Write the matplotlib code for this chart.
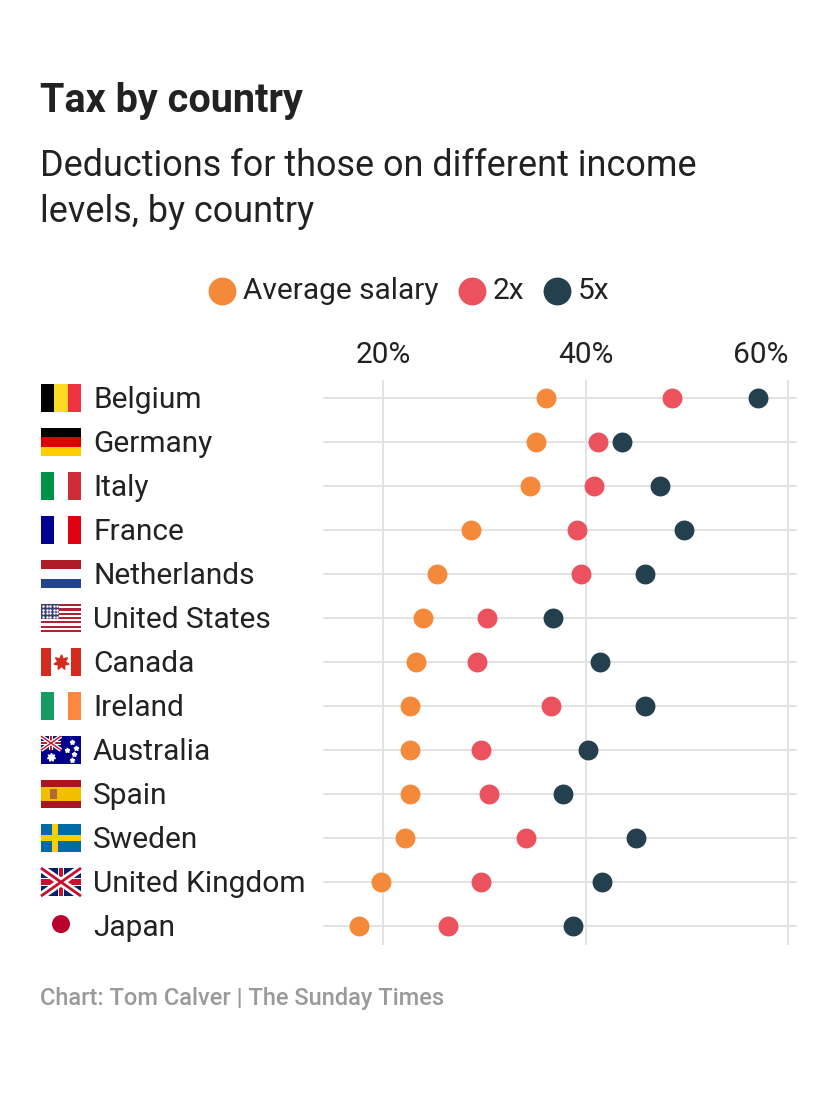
import matplotlib.pyplot as plt
from matplotlib.patches import Rectangle, Circle

plt.rcParams["font.family"] = ["Roboto", "DejaVu Sans"]

countries = ["Belgium", "Germany", "Italy", "France", "Netherlands", "United States",
             "Canada", "Ireland", "Australia", "Spain", "Sweden", "United Kingdom", "Japan"]
average = [36.1, 35.1, 34.5, 28.7, 25.3, 23.9, 23.2, 22.6, 22.6, 22.6, 22.2, 19.8, 17.6]
double = [48.5, 41.2, 40.8, 39.2, 39.6, 30.3, 29.3, 36.6, 29.7, 30.5, 34.1, 29.7, 26.4]
five = [57.0, 43.6, 47.4, 49.7, 45.9, 36.8, 41.4, 45.9, 40.2, 37.8, 45.0, 41.6, 38.8]
ticks = [20, 40, 60]
tick_labels = ["20%", "40%", "60%"]

C_AVG = "#f5893a"
C_2X = "#eb525d"
C_5X = "#24404f"
TXT = "#222222"

W, H = 840, 1104
fig = plt.figure(figsize=(W / 100, H / 100), dpi=100)

ax = fig.add_axes([323 / W, 1 - 945 / H, (797 - 323) / W, (945 - 380) / H])
rows = list(range(len(countries)))
ax.set_xlim(14.05, 60.9)
ax.set_ylim(12.43, -0.41)
for x in ticks:
    ax.axvline(x, color="#e3e3e3", lw=1.4, zorder=0)
for r in rows:
    ax.axhline(r, color="#e3e3e3", lw=1.4, zorder=0)

ms = 205
ax.scatter(average, rows, s=ms, color=C_AVG, zorder=3, label="Average salary", lw=0)
ax.scatter(double, rows, s=ms, color=C_2X, zorder=3, label="2x", lw=0)
ax.scatter(five, rows, s=ms, color=C_5X, zorder=3, label="5x", lw=0)

ax.xaxis.tick_top()
ax.set_xticks(ticks)
ax.set_xticklabels(tick_labels, fontsize=21.5, color=TXT)
ax.get_xticklabels()[-1].set_ha("right")
ax.tick_params(axis="x", length=0, pad=8)
ax.set_yticks([])
for s in ax.spines.values():
    s.set_visible(False)

fig.legend(loc="center", bbox_to_anchor=(410 / W, 1 - 291 / H), ncol=3, frameon=False,
           fontsize=21.5, markerscale=1.4, handlelength=0.8, handletextpad=0.3,
           columnspacing=0.7, labelcolor=TXT)

fig.text(40 / W, 1 - 112 / H, "Tax by country", fontsize=28.5, fontweight="bold", color=TXT)
fig.text(40 / W, 1 - 222 / H, "Deductions for those on different income\nlevels, by country",
         fontsize=25.9, color=TXT, linespacing=1.36)
fig.text(40 / W, 1 - 1005 / H, "Chart: Tom Calver | The Sunday Times", fontsize=17,
         fontweight="medium", color="#9a9a9a")

# overlay in pixel coordinates for flags and country names
ov = fig.add_axes([0, 0, 1, 1])
ov.set_xlim(0, W)
ov.set_ylim(H, 0)
ov.axis("off")
ov.set_zorder(5)

fx, fw, fh = 41, 40, 28


def row_y(r):
    return H - ax.transData.transform((20, r))[1]


def hstripes(y, cols):
    n = len(cols)
    for i, c in enumerate(cols):
        ov.add_patch(Rectangle((fx, y - fh / 2 + i * fh / n), fw, fh / n, color=c, lw=0))


def vstripes(y, cols):
    n = len(cols)
    for i, c in enumerate(cols):
        ov.add_patch(Rectangle((fx + i * fw / n, y - fh / 2), fw / n, fh, color=c, lw=0))


def union(x0, y0, w, h):
    ov.add_patch(Rectangle((x0, y0), w, h, color="#012169", lw=0))
    ov.plot([x0, x0 + w], [y0, y0 + h], color="white", lw=w / 7, solid_capstyle="butt")
    ov.plot([x0, x0 + w], [y0 + h, y0], color="white", lw=w / 7, solid_capstyle="butt")
    ov.plot([x0, x0 + w], [y0, y0 + h], color="#c8102e", lw=w / 20, solid_capstyle="butt")
    ov.plot([x0, x0 + w], [y0 + h, y0], color="#c8102e", lw=w / 20, solid_capstyle="butt")
    ov.add_patch(Rectangle((x0 + w * 0.42, y0), w * 0.16, h, color="white", lw=0))
    ov.add_patch(Rectangle((x0, y0 + h * 0.35), w, h * 0.3, color="white", lw=0))
    ov.add_patch(Rectangle((x0 + w * 0.45, y0), w * 0.1, h, color="#c8102e", lw=0))
    ov.add_patch(Rectangle((x0, y0 + h * 0.4), w, h * 0.2, color="#c8102e", lw=0))


for r, name in zip(rows, countries):
    y = row_y(r)
    top = y - fh / 2
    if name == "Belgium":
        vstripes(y, ["#000000", "#fdda24", "#ef3340"])
    elif name == "Germany":
        hstripes(y, ["#000000", "#dd0000", "#ffce00"])
    elif name == "Italy":
        vstripes(y, ["#009246", "white", "#ce2b37"])
    elif name == "France":
        vstripes(y, ["#000091", "white", "#e1000f"])
    elif name == "Netherlands":
        hstripes(y, ["#ae1c28", "white", "#21468b"])
    elif name == "United States":
        hstripes(y, ["#b22234" if i % 2 == 0 else "white" for i in range(13)])
        ov.add_patch(Rectangle((fx, top), fw * 0.45, fh * 7 / 13, color="#3c3b6e", lw=0))
        for i in range(5):
            for j in range(4):
                ov.plot(fx + 2 + i * 3.6, top + 2 + j * 3.6, "o", ms=0.8, color="white")
    elif name == "Canada":
        vstripes(y, ["#d52b1e", "white", "white", "#d52b1e"])
        ov.plot(fx + fw / 2, y, marker=(7, 1, 0), ms=11, color="#d52b1e", lw=0)
    elif name == "Ireland":
        vstripes(y, ["#169b62", "white", "#ff883e"])
    elif name == "Australia":
        ov.add_patch(Rectangle((fx, top), fw, fh, color="#00008b", lw=0))
        union(fx, top, fw / 2, fh / 2)
        ov.plot(fx + 10, top + 21, marker=(7, 1, 0), ms=6, color="white")
        for sx, sy in [(31, 6), (26, 14), (35, 12), (31, 24), (33, 18)]:
            ov.plot(fx + sx, top + sy, marker=(5, 1, 0), ms=3.5, color="white")
    elif name == "Spain":
        hstripes(y, ["#aa151b", "#f1bf00", "#f1bf00", "#aa151b"])
        ov.add_patch(Rectangle((fx + 9, y - 5), 7, 10, color="#b06a3a", lw=0))
    elif name == "Sweden":
        ov.add_patch(Rectangle((fx, top), fw, fh, color="#006aa7", lw=0))
        ov.add_patch(Rectangle((fx + 11, top), 6, fh, color="#fecc00", lw=0))
        ov.add_patch(Rectangle((fx, y - 3), fw, 6, color="#fecc00", lw=0))
    elif name == "United Kingdom":
        union(fx, top, fw, fh)
    elif name == "Japan":
        ov.add_patch(Circle((fx + fw / 2, y - 2), 9, color="#bc002d", lw=0))
    ov.text(93, y - 1, name, fontsize=21.5, color=TXT, va="center_baseline", ha="left")

fig.savefig("out.png", dpi=100)
